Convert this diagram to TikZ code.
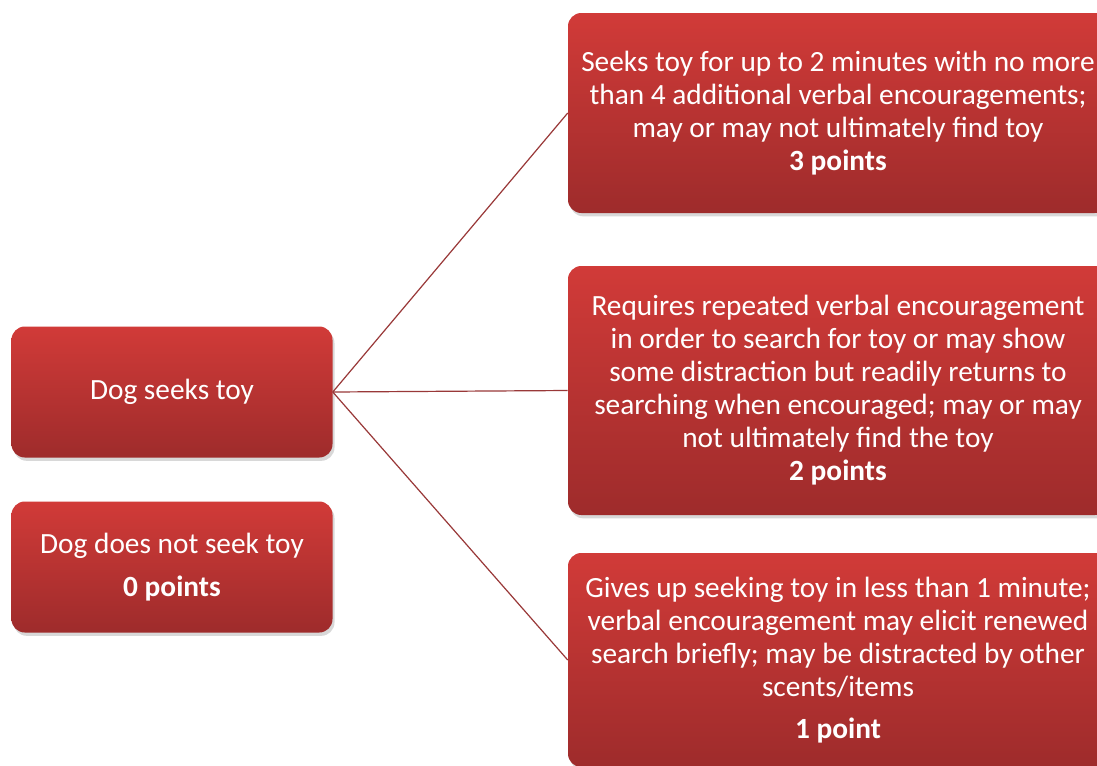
\documentclass[tikz,border=0pt]{standalone}
\usepackage{fontspec}
\setmainfont{Carlito}
\usetikzlibrary{shadows, positioning}
\newlength{\px}
\setlength{\px}{0.75pt}
\definecolor{boxtop}{rgb}{0.82, 0.23, 0.22}
\definecolor{boxbottom}{rgb}{0.62, 0.17, 0.17}
\definecolor{linkcolor}{rgb}{0.6, 0.22, 0.22}
\tikzset{choice/.style={top color=boxtop, bottom color=boxbottom, text=white, rounded corners=10pt, align=center, minimum width=321*\px, minimum height=131*\px, font=\fontsize{22}{24.75}\selectfont, drop shadow={opacity=0.3, shadow xshift=1.5pt, shadow yshift=-2.5pt}}}
\tikzset{score/.style={choice, minimum width=540*\px}}
\tikzset{link/.style={draw=linkcolor, line width=0.9pt}}

\begin{document}
\begin{tikzpicture}[x=0.75pt, y=-0.75pt]
	\useasboundingbox (0,0) rectangle (1097,765);
	\fill[white] (0,0) rectangle (1097,765);
	
	%%% NODES %%%
	
	% DOG BEHAVIOUR
	\node[choice] at (172,392) (seeks) {Dog seeks toy};
	\node[choice] at (172,567) (noseek) {Dog does not seek toy\\[7pt]\textbf{0 points}};
	
	% SCORES
	\node[score, minimum height=200*\px] at (838,113) (three) {Seeks toy for up to 2 minutes with no more\\than 4 additional verbal encouragements;\\may or may not ultimately find toy\\\textbf{3 points}};
	\node[score, minimum height=249*\px] at (838,390.5) (two) {Requires repeated verbal encouragement\\in order to search for toy or may show\\some distraction but readily returns to\\searching when encouraged; may or may\\not ultimately find the toy\\\textbf{2 points}};
	\node[score, minimum height=214*\px] at (838,660) (one) {Gives up seeking toy in less than 1 minute;\\verbal encouragement may elicit renewed\\search briefly; may be distracted by other\\scents/items\\[7pt]\textbf{1 point}};
	
	%%% LINES %%%
	\draw[link] (seeks.east) -- (three.west);
	\draw[link] (seeks.east) -- (two.west);
	\draw[link] (seeks.east) -- (one.west);
	
\end{tikzpicture}
\end{document}
